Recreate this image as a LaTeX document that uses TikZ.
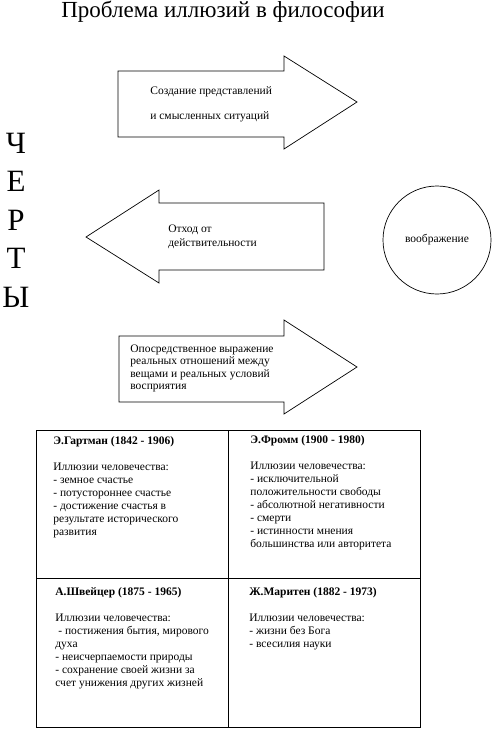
\documentclass[tikz,border=0pt]{standalone}
\usepackage{fontspec}
\setmainfont{Liberation Serif}
\usepackage{tikz}
\usetikzlibrary{positioning,calc}

\begin{document}
\begin{tikzpicture}[x=1pt,y=-1pt,line width=0.7pt,
        txt/.style={anchor=base west,inner sep=0pt,font=\fontsize{11.5}{13}\selectfont},
        celltxt/.style={anchor=north west,inner sep=0pt,align=left,font=\fontsize{11.5}{13}\selectfont},
        bigletter/.style={anchor=base,inner sep=0pt,font=\fontsize{31}{31}\selectfont}]
                \useasboundingbox (0,0) rectangle (494,729);
                \node[anchor=base,inner sep=0pt,font=\fontsize{23}{23}\selectfont] (title) at (223,17) {Проблема иллюзий в философии};
                \foreach \l [count=\i] in {Ч,Е,Р,Т,Ы}
                \node[bigletter] (feat\i) at (16,{153+38.5*(\i-1)}) {\l};
                \draw (118,71) -- (284,71) -- (284,56) -- (357,102) -- (284,149) -- (284,137) -- (118,137) -- cycle;
                \draw (324,203) -- (159,203) -- (159,190) -- (86,237) -- (159,283) -- (159,270) -- (324,270) -- cycle;
                \draw (119,336) -- (284,336) -- (284,320) -- (357,367) -- (284,414) -- (284,402) -- (119,402) -- cycle;
                \node[txt] (create1) at (150,94) {Создание представлений};
                \node[txt] (create2) at (150,119) {и смысленных ситуаций};
                \node[txt] (away1) at (168,232) {Отход от};
                \node[txt] (away2) at (168,246) {действительности};
                \node[txt] (medi1) at (130,352) {Опосредственное выражение};
                \node[txt] (medi2) at (130,364.5) {реальных отношений между};
                \node[txt] (medi3) at (130,377) {вещами и реальных условий};
                \node[txt] (medi4) at (130,389.5) {восприятия};
                \node[draw,circle,minimum size=108pt,inner sep=0pt,font=\fontsize{11.5}{13}\selectfont] (imag) at (437,240) {воображение};
                \draw (36,430) rectangle (420,727);
                \draw (228,430) -- (228,727);
                \draw (36,578) -- (420,578);
                \node[celltxt] (hartmann) at (53,436) {\textbf{Э.Гартман (1842 - 1906)}\\[13pt]
                    Иллюзии человечества:\\- земное счастье\\- потустороннее счастье\\- достижение счастья в\\результате исторического\\развития};
                \node[celltxt] (fromm) at (250,435) {\textbf{Э.Фромм (1900 - 1980)}\\[13pt]
                    Иллюзии человечества:\\- исключительной\\положительности свободы\\- абсолютной негативности\\- смерти\\- истинности мнения\\большинства или авторитета};
                \node[celltxt] (schweitzer) at (55,587) {\textbf{А.Швейцер (1875 - 1965)}\\[13pt]
                    Иллюзии человечества:\\\hspace{3pt}- постижения бытия, мирового\\духа\\- неисчерпаемости природы\\- сохранение своей жизни за\\счет унижения других жизней};
                \node[celltxt] (maritain) at (249,587) {\textbf{Ж.Маритен (1882 - 1973)}\\[13pt]
                    Иллюзии человечества:\\- жизни без Бога\\- всесилия науки};
            \end{tikzpicture}
\end{document}
